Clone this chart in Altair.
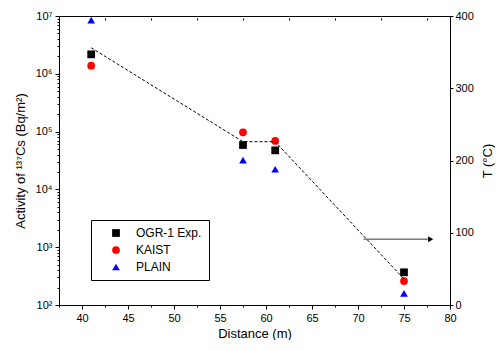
import altair as alt
import pandas as pd

# ---- data ----
distance = [41, 57.5, 61, 75]
series_names = ["OGR-1 Exp.", "KAIST", "PLAIN"]
ogr1 = [2.17e6, 5.86e4, 4.74e4, 368]
kaist = [1.38e6, 9.7e4, 6.9e4, 260]
plain = [8.5e6, 3.2e4, 2.23e4, 159]

temp_distance = [41, 57.5, 61, 75]
temp_values = [356, 226, 226, 36]

arrow_x = [70.6, 77.6]
arrow_t = [91, 91]
arrow_head_x = [77.9]
arrow_head_t = [91]

x_ticks = [37.5, 40, 42.5, 45, 47.5, 50, 52.5, 55, 57.5, 60, 62.5, 65, 67.5, 70, 72.5, 75, 77.5, 80]
y_major = [1e2, 1e3, 1e4, 1e5, 1e6, 1e7]
y_mult = [1, 2, 3, 4, 5, 6, 7, 8, 9]
y_ticks = [m * p for p in y_major[:-1] for m in y_mult] + [1e7]
t_ticks = [0, 25, 50, 75, 100, 125, 150, 175, 200, 225, 250, 275, 300, 325, 350, 375, 400]

FONT = "Liberation Sans"

rows = []
for name, vals in zip(series_names, [ogr1, kaist, plain]):
    for d, v in zip(distance, vals):
        rows.append({"series": name, "distance": d, "activity": v})
df = pd.DataFrame(rows)
df_t = pd.DataFrame({"distance": temp_distance, "T": temp_values})
df_a = pd.DataFrame({"distance": arrow_x, "T": arrow_t})
df_h = pd.DataFrame({"distance": arrow_head_x, "T": arrow_head_t})

xscale = alt.Scale(domain=[37.5, 80], nice=False, zero=False)
tscale = alt.Scale(domain=[0, 400], nice=False, zero=False)

is_pow = "abs(log(datum.value)/LN10 - round(log(datum.value)/LN10)) < 0.001"

points = alt.Chart(df).mark_point(filled=True, opacity=1).encode(
    x=alt.X("distance:Q", scale=xscale,
            axis=alt.Axis(values=x_ticks, title="Distance (m)", grid=False, labelFlush=False,
                          labelExpr="datum.value % 5 == 0 ? datum.label : ''",
                          tickSize={"condition": {"test": "datum.value % 5 == 0", "value": 4}, "value": 2},
                          labelPadding=3, titlePadding=4)),
    y=alt.Y("activity:Q",
            scale=alt.Scale(type="log", domain=[1e2, 1e7], nice=False),
            axis=alt.Axis(values=y_ticks, title="Activity of ¹³⁷Cs (Bq/m²)", grid=False, labelFlush=False,
                          labelExpr="(" + is_pow + ") ? '10' + ['⁰','¹','²','³','⁴','⁵','⁶','⁷','⁸'][round(log(datum.value)/LN10)] : ''",
                          tickSize={"condition": {"test": is_pow, "value": 4}, "value": 2},
                          labelPadding=3, titlePadding=8)),
    color=alt.Color("series:N", scale=alt.Scale(domain=series_names, range=["black", "red", "blue"]),
                    legend=alt.Legend(title=None, orient="none", legendX=32, legendY=204,
                                      strokeColor="black", fillColor="white", padding=7,
                                      symbolOffset=12, labelOffset=14, labelFontSize=12,
                                      labelFont=FONT, symbolSize=50, rowPadding=5,
                                      symbolStrokeWidth=0, cornerRadius=0)),
    shape=alt.Shape("series:N", scale=alt.Scale(domain=series_names, range=["square", "circle", "triangle-up"]),
                    legend=None),
    size=alt.Size("series:N", scale=alt.Scale(domain=series_names, range=[60, 60, 85]), legend=None),
)

top_x = alt.X("distance:Q", scale=xscale,
              axis=alt.Axis(orient="top", values=x_ticks, labels=False, title=None, domain=False, grid=False,
                            tickSize={"condition": {"test": "datum.value % 5 == 0", "value": 4}, "value": 2},
                            offset=-4))

temp = alt.Chart(df_t).mark_line(color="black", strokeDash=[3, 2], strokeWidth=1).encode(
    x=top_x,
    y=alt.Y("T:Q", scale=tscale,
            axis=alt.Axis(orient="right", values=t_ticks, title="T (°C)", titleAngle=-90,
                          titleBaseline="top", grid=False, labelFlush=False,
                          labelExpr="datum.value % 50 == 0 ? datum.label : ''",
                          tickSize={"condition": {"test": "datum.value % 50 == 0", "value": 3}, "value": 2},
                          labelPadding=2, titlePadding=8)),
)
arrow = alt.Chart(df_a).mark_line(color="#777777", strokeWidth=1.5).encode(
    x=alt.X("distance:Q", scale=xscale), y=alt.Y("T:Q", scale=tscale))
head = alt.Chart(df_h).mark_point(shape="triangle-right", filled=True, color="black", size=35, opacity=1).encode(
    x=alt.X("distance:Q", scale=xscale), y=alt.Y("T:Q", scale=tscale))

right = alt.layer(temp, arrow, head)

chart = alt.layer(points, right).resolve_scale(y="independent", x="independent").properties(
    width=391, height=289, padding={"left": 6, "top": 2, "right": 0, "bottom": 0}
).configure_view(stroke="black", strokeWidth=1).configure_axis(
    grid=False, domainColor="black", tickColor="black", labelColor="black", titleColor="black",
    labelFont=FONT, titleFont=FONT, labelFontSize=11, titleFontSize=13, titleFontWeight="normal"
)

chart.save("out.html", embed_options={"renderer": "svg", "actions": False})
